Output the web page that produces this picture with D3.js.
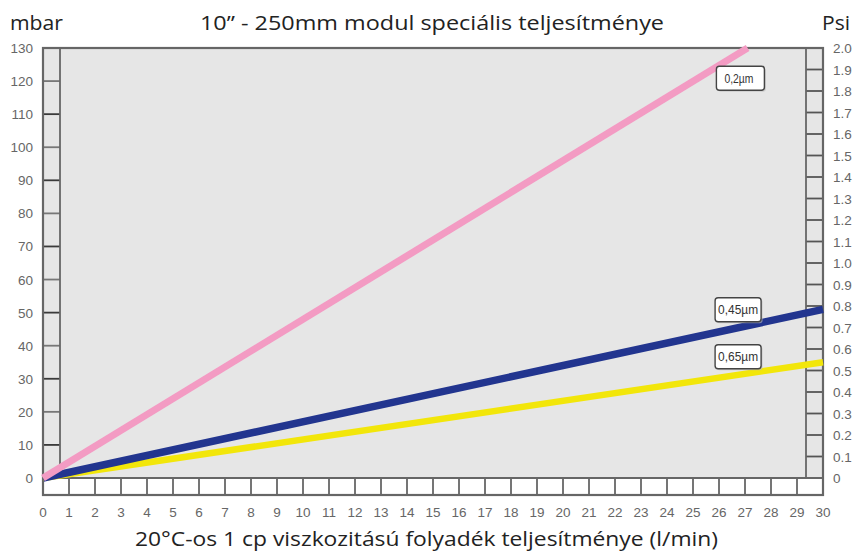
<!DOCTYPE html>
<html><head><meta charset="utf-8">
<script src="https://cdn.jsdelivr.net/npm/d3@7"></script>
<style>
body{margin:0;background:#fff;}
svg{display:block;}
</style></head>
<body><svg id="c" width="854" height="553"></svg>
<script>
// ---- data ----
const seriesNames = ["0,2µm", "0,45µm", "0,65µm"];
const seriesColors = ["#f39bc3", "#22358f", "#f2e60a"];
const pink02 = [[0, 0], [27.1, 130]];
const blue045 = [[0, 0], [30, 51]];
const yellow065 = [[0, 0], [30, 35]];
const xTicks = d3.range(0, 31, 1);
const mbarTicks = d3.range(0, 131, 10);
const psiTicks = d3.range(0, 21, 1).map(d => d / 10);
const titleText = "10\u201d - 250mm modul speciális teljesítménye";
const xTitle = "20°C-os 1 cp viszkozitású folyadék teljesítménye (l/min)";
const leftUnit = "mbar";
const rightUnit = "Psi";

// ---- layout ----
const svg = d3.select("#c");
const x = d3.scaleLinear().domain([0, 30]).range([43, 823]);
const y = d3.scaleLinear().domain([0, 130]).range([478, 48]);
const yPsi = d3.scaleLinear().domain([0, 2]).range([478, 48]);
const stripW = 17, stripH = 17;
const frame = "#666";
const tickFont = "'Liberation Sans Narrow','Liberation Sans',Arial,sans-serif";
const titleFont = "'Open Sans','Noto Sans',sans-serif";

// backgrounds
svg.append("rect").attr("x", x(0)).attr("y", y(130)).attr("width", x(30) - x(0)).attr("height", y(0) - y(130)).attr("fill", "#e6e6e6");
svg.append("rect").attr("x", x(0)).attr("y", y(0)).attr("width", x(30) - x(0)).attr("height", stripH).attr("fill", "#fff");

// strip ticks
const g = svg.append("g").attr("stroke", frame).attr("stroke-width", 1.8);
g.selectAll(".bt").data(xTicks).join("line")
  .attr("x1", d => x(d)).attr("x2", d => x(d)).attr("y1", y(0)).attr("y2", y(0) + stripH);
g.selectAll(".lt").data(mbarTicks).join("line")
  .attr("x1", x(0)).attr("x2", x(0) + stripW).attr("y1", d => y(d)).attr("y2", d => y(d))
  .attr("stroke", (d, i) => i % 2 ? "#3a3a3a" : "#777");
g.selectAll(".rt").data(psiTicks).join("line")
  .attr("x1", x(30) - stripW).attr("x2", x(30)).attr("y1", d => yPsi(d)).attr("y2", d => yPsi(d))
  .attr("stroke", "#555");
// inner lines
g.append("line").attr("x1", x(0) + stripW).attr("x2", x(0) + stripW).attr("y1", y(130)).attr("y2", y(0));
g.append("line").attr("x1", x(30) - stripW).attr("x2", x(30) - stripW).attr("y1", y(130)).attr("y2", y(0));
g.append("line").attr("x1", x(0)).attr("x2", x(30)).attr("y1", y(0)).attr("y2", y(0));
// outer frame
svg.append("rect").attr("x", x(0)).attr("y", y(130)).attr("width", x(30) - x(0)).attr("height", y(0) + stripH - y(130))
  .attr("fill", "none").attr("stroke", frame).attr("stroke-width", 2.2);

// series lines
const line = d3.line().x(d => x(d[0])).y(d => y(d[1]));
const series = [pink02, blue045, yellow065];
const widths = [7, 7.5, 6.5];
[2, 1, 0].forEach(i => {
  svg.append("path").datum(series[i]).attr("d", line)
    .attr("fill", "none").attr("stroke", seriesColors[i]).attr("stroke-width", widths[i]).attr("stroke-linecap", "butt");
});

// series labels
const labelPos = [[25.9, 124.5], [25.85, 54.5], [25.85, 40.3]];
seriesNames.forEach((n, i) => {
  const lx = x(labelPos[i][0]), ly = y(labelPos[i][1]);
  const w = i === 0 ? 48 : 46, h = 24;
  svg.append("rect").attr("x", lx + 1.5).attr("y", ly + 1.5).attr("width", w).attr("height", h).attr("rx", 3)
    .attr("fill", "#bbb").attr("opacity", 0.6);
  svg.append("rect").attr("x", lx).attr("y", ly).attr("width", w).attr("height", h).attr("rx", 3)
    .attr("fill", "#fff").attr("stroke", "#444").attr("stroke-width", 1.4);
  svg.append("text").attr("x", lx + (i === 0 ? 8 : 3)).attr("y", ly + 16.5).text(n)
    .attr("font-family", tickFont).attr("font-size", 12.5).attr("fill", "#333")
    .attr("textLength", i === 0 ? 29 : 40).attr("lengthAdjust", "spacingAndGlyphs");
});

// tick labels
svg.selectAll(".ly").data(mbarTicks).join("text")
  .attr("x", 33).attr("y", d => y(d) + 5).attr("text-anchor", "end").text(d => d)
  .attr("font-family", tickFont).attr("font-size", 13.5).attr("fill", "#666");
svg.selectAll(".ry").data(psiTicks).join("text")
  .attr("x", 833).attr("y", d => yPsi(d) + 5).attr("text-anchor", "start").text(d => d === 0 ? "0" : d.toFixed(1))
  .attr("font-family", tickFont).attr("font-size", 13.5).attr("fill", "#666");
svg.selectAll(".lx").data(xTicks).join("text")
  .attr("x", d => x(d)).attr("y", 517).attr("text-anchor", "middle").text(d => d)
  .attr("font-family", tickFont).attr("font-size", 13.5).attr("fill", "#666");

// titles
svg.append("text").attr("x", 10).attr("y", 30).text(leftUnit)
  .attr("font-family", titleFont).attr("font-size", 20.5).attr("fill", "#222")
  .attr("textLength", 53).attr("lengthAdjust", "spacingAndGlyphs");
svg.append("text").attr("x", 822).attr("y", 30).text(rightUnit)
  .attr("font-family", titleFont).attr("font-size", 20.5).attr("fill", "#222")
  .attr("textLength", 28).attr("lengthAdjust", "spacingAndGlyphs");
svg.append("text").attr("x", 200).attr("y", 30).text(titleText)
  .attr("font-family", titleFont).attr("font-size", 20.5).attr("fill", "#222")
  .attr("textLength", 464).attr("lengthAdjust", "spacingAndGlyphs");
svg.append("text").attr("x", 135).attr("y", 546).text(xTitle)
  .attr("font-family", titleFont).attr("font-size", 20.5).attr("fill", "#222")
  .attr("textLength", 583).attr("lengthAdjust", "spacingAndGlyphs");
</script></body></html>
